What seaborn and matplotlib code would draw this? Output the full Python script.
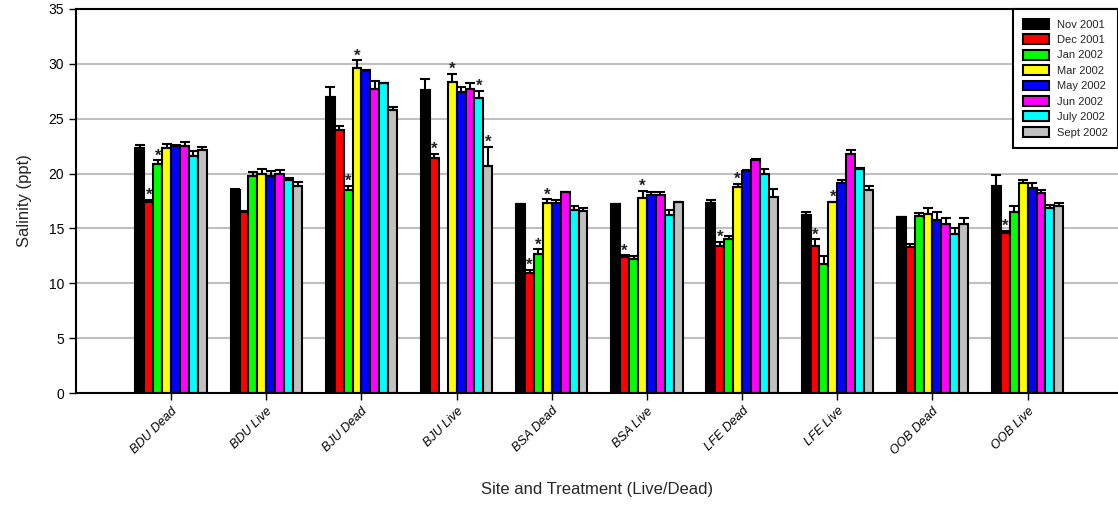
import numpy as np
import pandas as pd
import matplotlib
matplotlib.use('Agg')
import matplotlib.pyplot as plt
import seaborn as sns

# Sites / treatments and sampling months
sites = ['BDU Dead', 'BDU Live', 'BJU Dead', 'BJU Live', 'BSA Dead',
         'BSA Live', 'LFE Dead', 'LFE Live', 'OOB Dead', 'OOB Live']
months = ['Nov 2001', 'Dec 2001', 'Jan 2002', 'Mar 2002',
          'May 2002', 'Jun 2002', 'July 2002', 'Sept 2002']
month_colors = ['#000000', '#FF0000', '#00FF00', '#FFFF00',
                '#0000FF', '#FF00FF', '#00FFFF', '#C0C0C0']

# Mean salinity (ppt) per site
nov = [22.3, 18.5, 27.0, 27.6, 17.2, 17.2, 17.3, 16.2, 16.0, 18.9]
dec = [17.4, 16.5, 24.0, 21.4, 10.9, 12.4, 13.4, 13.4, 13.3, 14.6]
jan = [20.9, 19.8, 18.5, np.nan, 12.7, 12.2, 14.0, 11.8, 16.1, 16.5]
mar = [22.3, 20.0, 29.6, 28.3, 17.3, 17.8, 18.8, 17.4, 16.3, 19.1]
may = [22.5, 19.8, 29.3, 27.4, 17.3, 18.0, 20.2, 19.1, 15.8, 18.7]
jun = [22.5, 20.0, 27.7, 27.7, 18.3, 18.0, 21.2, 21.8, 15.4, 18.2]
jul = [21.6, 19.4, 28.2, 26.9, 16.7, 16.2, 20.0, 20.4, 14.5, 16.9]
sep = [22.1, 18.9, 25.8, 20.7, 16.6, 17.4, 17.9, 18.5, 15.4, 17.0]

# Upper error (SE)
nov_err = [0.3, 0.05, 0.9, 1.0, 0.0, 0.0, 0.3, 0.3, 0.05, 1.0]
dec_err = [0.2, 0.05, 0.3, 0.4, 0.3, 0.15, 0.35, 0.6, 0.3, 0.2]
jan_err = [0.3, 0.3, 0.4, np.nan, 0.4, 0.3, 0.3, 0.7, 0.3, 0.5]
mar_err = [0.4, 0.45, 0.7, 0.75, 0.35, 0.65, 0.25, 0.05, 0.55, 0.3]
may_err = [0.1, 0.45, 0.1, 0.5, 0.3, 0.3, 0.15, 0.3, 0.7, 0.45]
jun_err = [0.4, 0.3, 0.75, 0.55, 0.05, 0.3, 0.1, 0.35, 0.55, 0.3]
jul_err = [0.45, 0.2, 0.05, 0.65, 0.35, 0.5, 0.45, 0.1, 0.5, 0.2]
sep_err = [0.35, 0.3, 0.3, 1.7, 0.3, 0.05, 0.65, 0.35, 0.55, 0.3]

# Bars marked with an asterisk (site, month)
starred = [('BDU Dead', 'Dec 2001'), ('BDU Dead', 'Jan 2002'),
           ('BJU Dead', 'Jan 2002'), ('BJU Dead', 'Mar 2002'),
           ('BJU Live', 'Dec 2001'), ('BJU Live', 'Mar 2002'),
           ('BJU Live', 'July 2002'), ('BJU Live', 'Sept 2002'),
           ('BSA Dead', 'Dec 2001'), ('BSA Dead', 'Jan 2002'), ('BSA Dead', 'Mar 2002'),
           ('BSA Live', 'Dec 2001'), ('BSA Live', 'Mar 2002'),
           ('LFE Dead', 'Dec 2001'), ('LFE Dead', 'Mar 2002'),
           ('LFE Live', 'Dec 2001'), ('LFE Live', 'Mar 2002'),
           ('OOB Live', 'Dec 2001')]

values = dict(zip(months, [nov, dec, jan, mar, may, jun, jul, sep]))
errors = dict(zip(months, [nov_err, dec_err, jan_err, mar_err,
                           may_err, jun_err, jul_err, sep_err]))

rows = []
for m in months:
    for s, v in zip(sites, values[m]):
        rows.append({'site': s, 'month': m, 'salinity': v})
df = pd.DataFrame(rows)

sns.set_style('ticks')
plt.rcParams['font.family'] = ['Liberation Sans', 'DejaVu Sans']

fig = plt.figure(figsize=(11.18, 5.16), dpi=100)
ax = fig.add_axes([0.068, 0.238, 0.932, 0.745])

sns.barplot(data=df, x='site', y='salinity', hue='month', order=sites,
            hue_order=months, palette=month_colors, saturation=1,
            width=0.75, edgecolor='black', linewidth=1.5, errorbar=None, ax=ax)

# upper-only error bars and significance stars
for container, m in zip(list(ax.containers), months):
    for bar in container:
        h = bar.get_height()
        if np.isnan(h):
            continue
        cx = bar.get_x() + bar.get_width() / 2
        i = int(round(cx))
        e = errors[m][i]
        ax.errorbar(cx, h, yerr=[[0], [e]], fmt='none', ecolor='black',
                    elinewidth=1.5, capsize=3.3, capthick=1.5, zorder=3)
        if (sites[i], m) in starred:
            ax.text(cx, h + e, '*', ha='center', va='baseline', fontsize=12,
                    fontweight='bold', color='#222222')

ax.set_ylim(0, 35)
ax.set_xlim(-1, 9.95)
ax.set_yticks(range(0, 36, 5))
ax.yaxis.grid(True, color='#C0C0C0', linewidth=1.5)
ax.set_axisbelow(True)
for side in ['left', 'bottom', 'top']:
    ax.spines[side].set_color('black')
    ax.spines[side].set_linewidth(1.5)
ax.spines['right'].set_visible(False)
ax.tick_params(axis='both', direction='out', length=5, width=1, colors='black')
ax.tick_params(axis='y', labelsize=10)

ax.set_xticks(range(len(sites)))
ax.set_xticklabels(sites, rotation=45, ha='right', rotation_mode='anchor',
                   fontsize=9, fontstyle='italic',
                   family=['Liberation Sans Narrow', 'Liberation Sans', 'DejaVu Sans'])

ax.set_xlabel('Site and Treatment (Live/Dead)', fontsize=12, labelpad=18)
ax.set_ylabel('Salinity (ppt)', fontsize=12, labelpad=12)

leg = ax.legend(loc='upper right', fontsize=8, frameon=True, fancybox=False,
                edgecolor='black', framealpha=1, borderaxespad=0,
                handlelength=2.4, handleheight=1.0, labelspacing=0.42,
                handletextpad=0.7, borderpad=0.9)
leg.get_frame().set_linewidth(1.5)

plt.savefig('out.png', dpi=100)
